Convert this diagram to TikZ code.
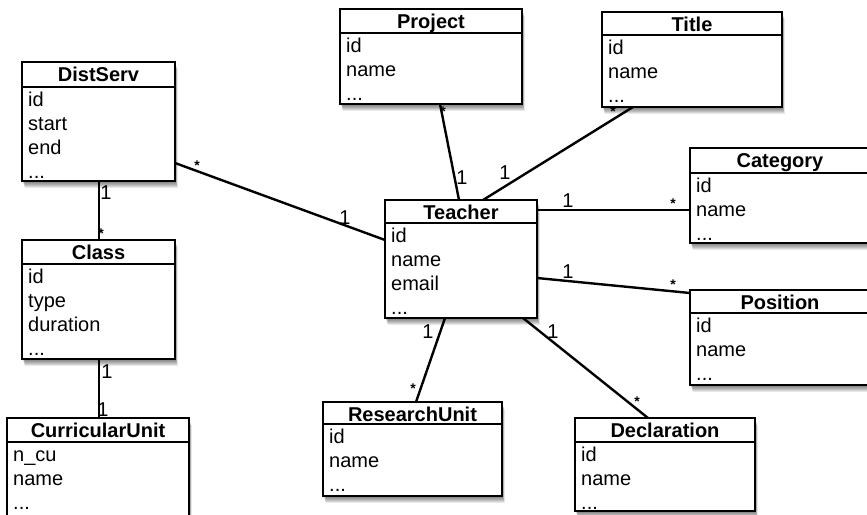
\documentclass[tikz,border=0pt]{standalone}
\usepackage{fontspec}
\setmainfont{Liberation Sans}
\usetikzlibrary{calc}
\tikzset{
 classbox/.style={draw=black, fill=white, line width=2.9pt, inner sep=0pt, outer sep=0pt, rectangle},
 sepline/.style={line width=2pt},
 titletext/.style={font=\fontsize{20}{23}\selectfont\bfseries, inner sep=0pt},
 attrtext/.style={font=\fontsize{20}{23}\selectfont, inner sep=0pt},
 assoc/.style={line width=2.4pt},
 mult/.style={font=\fontsize{20}{22}\selectfont, inner sep=0pt},
 star/.style={font=\fontsize{14}{15}\selectfont\bfseries, inner sep=0pt},
 shade/.style={black,opacity=0.09},
}
\newcommand\umlclass[7]{%
 \def\cname{#1}\def\cleft{#2}\def\csep{#6}%
 \fill[shade] ({#2+0.4},{#3+1}) rectangle ({#4+0.4},{#5+1});
 \fill[shade] ({#2+0.8},{#3+2}) rectangle ({#4+0.8},{#5+2});
 \fill[shade] ({#2+1.2},{#3+3}) rectangle ({#4+1.2},{#5+3});
 \fill[shade] ({#2+1.6},{#3+4}) rectangle ({#4+1.6},{#5+4});
 \fill[shade] ({#2+2.0},{#3+5}) rectangle ({#4+2.0},{#5+5});
 \fill[shade] ({#2+2.4},{#3+6}) rectangle ({#4+2.4},{#5+6});
 \fill[shade] ({#2+2.8},{#3+7}) rectangle ({#4+2.8},{#5+7});
 \node[classbox, anchor=north west, minimum width={(#4-#2)*1pt}, minimum height={(#5-#3)*1pt}] (#1) at (#2,#3) {};
 \draw[sepline] (#2,#6) -- (#4,#6);
 \node[titletext, anchor=base] (#1-t) at ({(#2+#4)/2},{#3+19.5}) {#7};
}
\newcommand\attr[2]{%
 \node[attrtext, anchor=base west] (\cname-a#1) at ({\cleft+6},{\csep+19+(#1-1)*24}) {#2};
}
\begin{document}
\begin{tikzpicture}[x=1pt,y=-1pt]
\clip (0,0) rectangle (867,514);
\fill[white] (0,0) rectangle (867,514);
\umlclass{distserv}{22}{62}{175}{181}{87}{DistServ}
 \attr{1}{id}\attr{2}{start}\attr{3}{end}\attr{4}{...}
\umlclass{class}{22}{240}{175}{359}{264}{Class}
 \attr{1}{id}\attr{2}{type}\attr{3}{duration}\attr{4}{...}
\umlclass{cu}{7}{418}{189}{518}{442}{CurricularUnit}
 \attr{1}{n\_cu}\attr{2}{name}\attr{3}{...}
\umlclass{project}{340}{9}{522}{104}{33}{Project}
 \attr{1}{id}\attr{2}{name}\attr{3}{...}
\umlclass{title}{602}{12}{782}{107}{35}{Title}
 \attr{1}{id}\attr{2}{name}\attr{3}{...}
\umlclass{teacher}{385}{200}{537}{318}{223}{Teacher}
 \attr{1}{id}\attr{2}{name}\attr{3}{email}\attr{4}{...}
\umlclass{category}{690}{148}{870}{243}{173}{Category}
 \attr{1}{id}\attr{2}{name}\attr{3}{...}
\umlclass{position}{690}{290}{870}{385}{313}{Position}
 \attr{1}{id}\attr{2}{name}\attr{3}{...}
\umlclass{ru}{323}{402}{502}{496}{424}{ResearchUnit}
 \attr{1}{id}\attr{2}{name}\attr{3}{...}
\umlclass{decl}{575}{418}{755}{511}{442}{Declaration}
 \attr{1}{id}\attr{2}{name}\attr{3}{...}

\draw[assoc] ($(project.south west)+(100,0)$) -- ($(teacher.north west)+(74,0)$);
\draw[assoc] ($(title.south west)+(31,0)$) -- ($(teacher.north west)+(98,0)$);
\draw[assoc] ($(teacher.north east)+(0,10)$) -- ($(category.north west)+(0,62)$);
\draw[assoc] ($(teacher.north east)+(0,78)$) -- ($(position.north west)+(0,3)$);
\draw[assoc] ($(teacher.south west)+(60,0)$) -- ($(ru.north west)+(93,0)$);
\draw[assoc] ($(teacher.south west)+(138,0)$) -- ($(decl.north west)+(73,0)$);
\draw[assoc] ($(distserv.north east)+(0,101)$) -- ($(teacher.north west)+(0,40)$);
\draw[assoc] ($(distserv.south west)+(77,0)$) -- ($(class.north west)+(77,0)$);
\draw[assoc] ($(class.south west)+(77,0)$) -- ($(cu.north west)+(92,0)$);

\node[mult] (m1) at (462,178) {1};
\node[star] (s1) at (443,112) {*};
\node[mult] (m2) at (505,173) {1};
\node[star] (s2) at (613,112) {*};
\node[mult] (m3) at (568,201) {1};
\node[star] (s3) at (673,204) {*};
\node[mult] (m4) at (568,272) {1};
\node[star] (s4) at (673,285) {*};
\node[mult] (m5) at (428,332) {1};
\node[star] (s5) at (413,389) {*};
\node[mult] (m6) at (553,332) {1};
\node[star] (s6) at (637,402) {*};
\node[star] (s7) at (197,166) {*};
\node[mult] (m7) at (345,218) {1};
\node[mult] (m8) at (106,193) {1};
\node[star] (s8) at (101,234) {*};
\node[mult] (m9) at (107,372) {1};
\node[mult] (m10) at (103,410) {1};
\end{tikzpicture}
\end{document}
